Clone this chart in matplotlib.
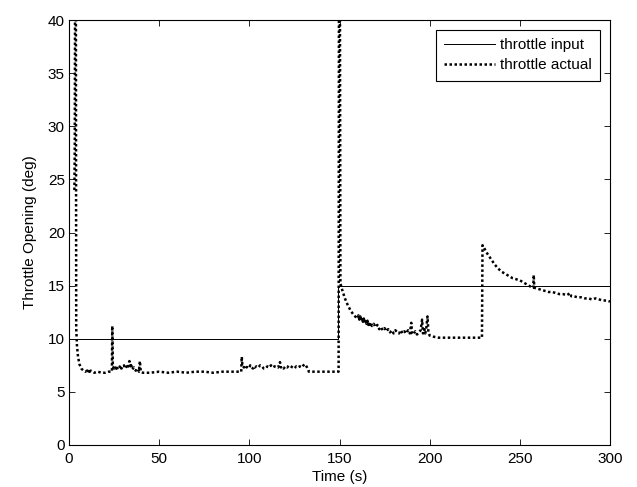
import matplotlib
matplotlib.use("Agg")
import matplotlib.pyplot as plt

plt.rcParams['font.family'] = ['Liberation Sans', 'DejaVu Sans']

# throttle input (deg)
input_t = [0, 149.2, 149.2, 300]
input_v = [10, 10, 15, 15]

# throttle actual (deg)
actual_t = [3.0, 3.2, 3.4, 3.8, 4.0, 4.4, 5.0, 5.8, 6.8, 8.0, 9, 10, 10.5, 11, 11.5, 12, 13, 14, 16, 18, 20, 22, 23.8,
            24.0, 24.3, 25, 25.5, 26, 26.5, 27, 28, 28.5, 29, 30, 30.5, 31, 32, 32.5, 33, 33.5, 34, 34.5, 35, 36, 36.5,
            37, 38, 38.8, 39.3, 39.8, 41,
            45, 50, 55, 60, 65, 70, 75, 80, 85, 90, 95.5,
            95.8, 96.2, 97, 98, 98.5, 99, 100, 100.5, 101, 102, 102.5, 103, 104, 105, 106, 107, 108, 109, 110, 111,
            112, 113, 114, 115, 116, 117, 117.5, 118, 119, 120, 121, 122, 123, 124, 125, 126,
            127, 128, 129, 130, 131, 132, 133,
            135, 140, 145, 149.5, 149.7, 150.2, 150.5, 151.5, 153, 154.5, 156, 158, 160, 160.5, 161, 161.5, 162, 162.5,
            163, 163.5, 164, 164.5, 165, 165.5,
            166, 166.5, 167, 167.5, 168, 169, 170, 171, 172, 173, 174, 175, 176, 177, 178, 179, 180, 181, 182, 183, 184, 185,
            186, 187, 188, 189, 189.8, 190.3, 191, 192, 193, 194, 195, 195.8, 196.3, 197, 197.5, 198, 198.8, 199.3, 200,
            202, 205, 210, 215, 220, 225, 229,
            229.3, 230, 232, 234, 236, 238, 240, 242, 244, 246, 248, 250, 252, 254, 256, 257.5, 257.7, 258, 260,
            262, 264, 266, 268, 270, 272, 274, 276, 278, 278.5, 280, 282, 284, 286, 288, 290, 292, 294, 296, 298, 300]
actual_v = [24.0, 28.0, 45, 45, 11.0, 9.4, 8.3, 7.6, 7.2, 7.0, 6.9, 7.0, 6.8, 7.1, 6.9, 7.0, 6.9, 6.8, 6.9, 6.8, 6.8, 6.9, 6.9,
            11.2, 7.4, 7.2, 7.4, 7.2, 7.4, 7.1, 7.3, 7.5, 7.2, 7.3, 7.5, 7.2, 7.4, 7.2, 7.5, 7.9, 7.3, 7.5, 7.1, 7.3, 7.1,
            7.0, 7.2, 6.9, 7.9, 6.9, 6.8,
            6.8, 6.9, 6.8, 6.9, 6.8, 6.9, 6.9, 6.8, 6.9, 6.9, 6.9,
            8.3, 7.4, 7.3, 7.5, 7.3, 7.4, 7.3, 7.5, 7.3, 7.2, 7.4, 7.3, 7.4, 7.3, 7.5, 7.4, 7.2, 7.2, 7.4, 7.3,
            7.5, 7.3, 7.4, 7.4, 7.3, 7.8, 7.3, 7.4, 7.2, 7.4, 7.3, 7.5, 7.4, 7.3, 7.2, 7.4,
            7.3, 7.4, 7.3, 7.5, 7.6, 7.3, 6.9,
            6.9, 6.9, 6.9, 6.9, 45, 45, 15.2, 14.6, 13.8, 13.2, 12.7, 12.2, 11.9, 12.2, 11.8, 12.1, 11.7, 12.0,
            11.6, 11.9, 11.5, 11.8, 11.4, 11.7,
            11.3, 11.6, 11.3, 11.5, 11.2, 11.4, 11.1, 11.3, 10.9, 11.1, 10.8, 11.0, 10.7, 10.9, 10.6, 10.8, 10.5, 10.8, 10.6, 10.5, 10.8, 10.5,
            10.7, 10.5, 10.8, 10.5, 11.5, 10.5, 10.4, 10.7, 10.4, 10.6, 10.8, 11.8, 10.5, 10.9, 10.5, 10.8, 12.1, 10.6, 10.3,
            10.2, 10.1, 10.1, 10.1, 10.1, 10.1, 10.1,
            18.8, 18.6, 18.0, 17.5, 17.0, 16.6, 16.3, 16.1, 15.9, 15.7, 15.6, 15.5, 15.3, 15.1, 14.9, 14.8, 16.0, 14.8, 14.7,
            14.6, 14.5, 14.4, 14.4, 14.3, 14.2, 14.2, 14.1, 14.3, 14.0, 14.0, 13.9, 13.9, 13.8, 13.8, 13.7, 13.8, 13.7, 13.6, 13.6, 13.5]

fig = plt.figure(figsize=(6.37, 4.87), dpi=100)
ax = fig.add_axes([69/637, 1 - 445/487, (610 - 69)/637, (445 - 20)/487])

ax.plot(input_t, input_v, color='black', lw=0.7, label='throttle input')
ax.plot(actual_t, actual_v, color='black', lw=1.8, linestyle=(0, (1, 1)), label='throttle actual')

ax.set_xlim(0, 300)
ax.set_ylim(0, 40)
ax.set_xticks([0, 50, 100, 150, 200, 250, 300])
ax.set_yticks([0, 5, 10, 15, 20, 25, 30, 35, 40])
ax.tick_params(direction='in', top=True, right=True, length=4, width=0.6, labelsize=11, pad=3)
ax.tick_params(axis='x', pad=5)
for s in ax.spines.values():
    s.set_linewidth(0.8)
ax.set_xlabel('Time (s)', fontsize=11, labelpad=3)
ax.set_ylabel('Throttle Opening (deg)', fontsize=11, labelpad=8)

leg = ax.legend(loc='upper right', fontsize=11, fancybox=False, framealpha=1, edgecolor='black',
                handlelength=3.3, handletextpad=0.35, borderpad=0.55, labelspacing=0.4,
                borderaxespad=0.65)
leg.get_frame().set_linewidth(0.8)

fig.savefig('out.png', dpi=100)
